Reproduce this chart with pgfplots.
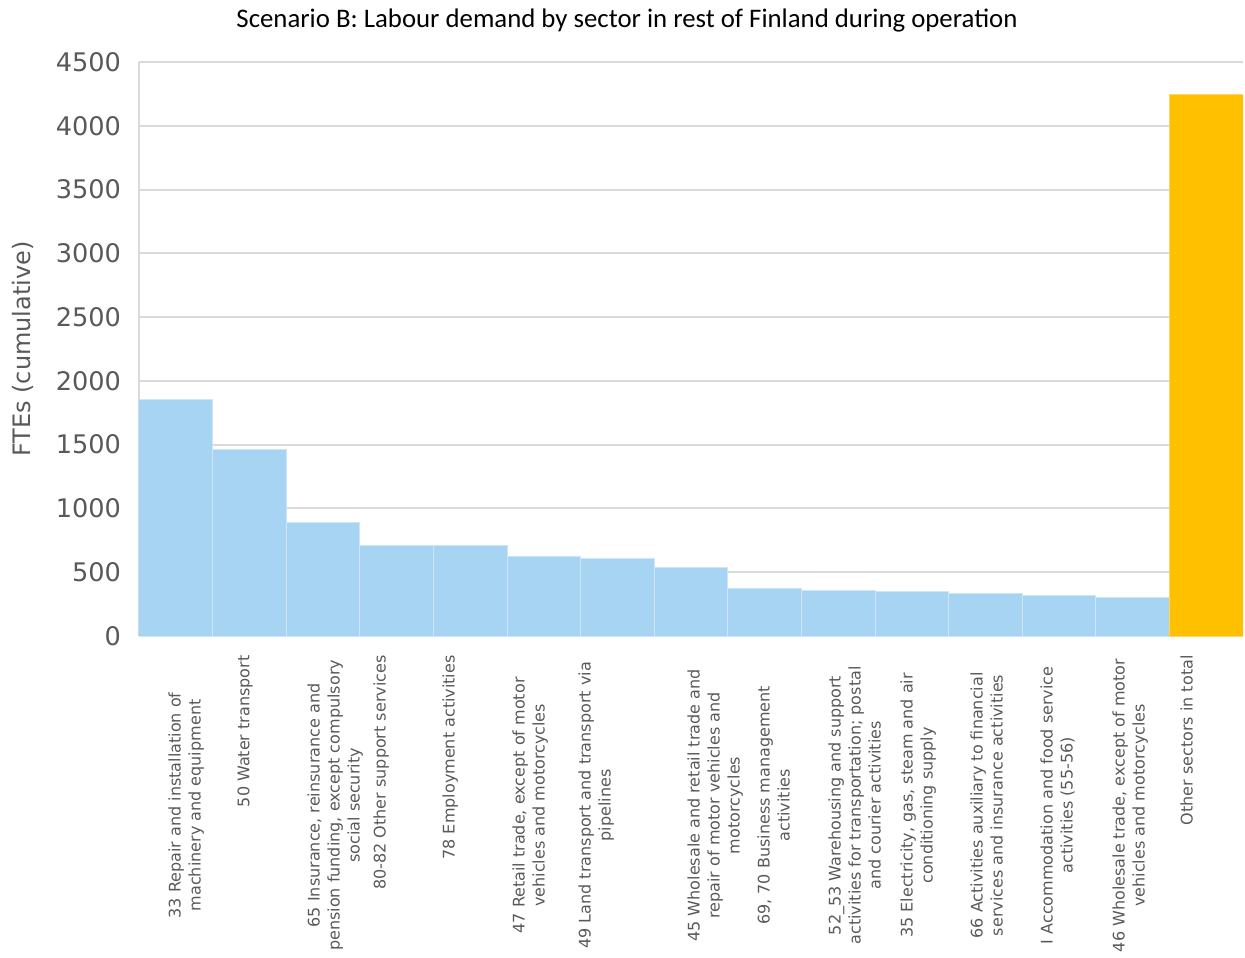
\documentclass[border=0pt]{standalone}
\usepackage{pgfplots}
\pgfplotsset{compat=1.18}
\usepackage{fontspec}
\setmainfont{DejaVu Sans}
\newfontfamily\titlefont{Carlito}
\definecolor{barblue}{RGB}{168,212,243}
\definecolor{bargold}{RGB}{255,192,0}
\definecolor{gridgray}{RGB}{217,217,217}
\definecolor{txtgray}{RGB}{89,89,89}
\newcommand{\ml}[1]{\parbox{150pt}{\centering\fontsize{8}{10}\selectfont #1}}
\begin{document}
\begin{tikzpicture}
\begin{axis}[
  at={(0,0)}, anchor=south west,
  scale only axis, width=552pt, height=287pt,
  ymin=0, ymax=4500, ytick={0,500,...,4500},
  xmin=-0.5, xmax=14.5,
  axis x line=bottom, axis y line=left,
  axis line style={gridgray, line width=1pt, -},
  ymajorgrids, grid style={gridgray, line width=1pt},
  major tick length=0pt,
  /pgf/number format/assume math mode=true,
  /pgf/number format/1000 sep={},
  yticklabel style={font=\fontsize{12.8}{14}\selectfont, text=txtgray, anchor=east, xshift=-5.5pt},
  xtick={-0.106,0.832,1.783,2.679,3.617,4.568,5.465,6.946,7.897,8.861,9.840,10.791,11.742,12.720,13.644},
  xticklabels={
    \ml{33 Repair and installation of\\machinery and equipment},
    50 Water transport,
    \ml{65 Insurance, reinsurance and\\pension funding, except compulsory\\social security},
    80-82 Other support services,
    78 Employment activities,
    \ml{47 Retail trade, except of motor\\vehicles and motorcycles},
    \ml{49 Land transport and transport via\\pipelines},
    \ml{45 Wholesale and retail trade and\\repair of motor vehicles and\\motorcycles},
    \ml{69, 70 Business management\\activities},
    \ml{52\_53 Warehousing and support\\activities for transportation; postal\\and courier activities},
    \ml{35 Electricity, gas, steam and air\\conditioning supply},
    \ml{66 Activities auxiliary to financial\\services and insurance activities},
    \ml{I Accommodation and food service\\activities (55-56)},
    \ml{46 Wholesale trade, except of motor\\vehicles and motorcycles},
    Other sectors in total},
  xticklabel style={rotate=90, anchor=north east, inner sep=0pt, text=txtgray, font=\fontsize{8}{10}\selectfont},
  xticklabel shift=9.5pt,
  ylabel={FTEs (cumulative)},
  ylabel style={at={(axis description cs:-0.1051,0.5)}, anchor=center, text=txtgray, font=\fontsize{12}{14}\selectfont},
  ybar, bar width=1, bar shift=0pt,
]
\addplot[fill=barblue, draw={rgb,255:red,205;green,229;blue,249}, line width=0.5pt] coordinates {
  (0,1855) (1,1460) (2,891) (3,713) (4,711) (5,622) (6,606) (7,538)
  (8,374) (9,353) (10,345) (11,335) (12,319) (13,303)};
\addplot[fill=bargold, draw={rgb,255:red,255;green,214;blue,102}, line width=0.5pt] coordinates {(14,4245)};
\end{axis}
\node[font=\titlefont\fontsize{13.4}{15}\selectfont, anchor=center] at (244pt,307.5pt) {Scenario B: Labour demand by sector in rest of Finland during operation};
\pgfresetboundingbox
\path (-69.5pt,-160.5pt) rectangle (553pt,318pt);
\end{tikzpicture}
\end{document}
